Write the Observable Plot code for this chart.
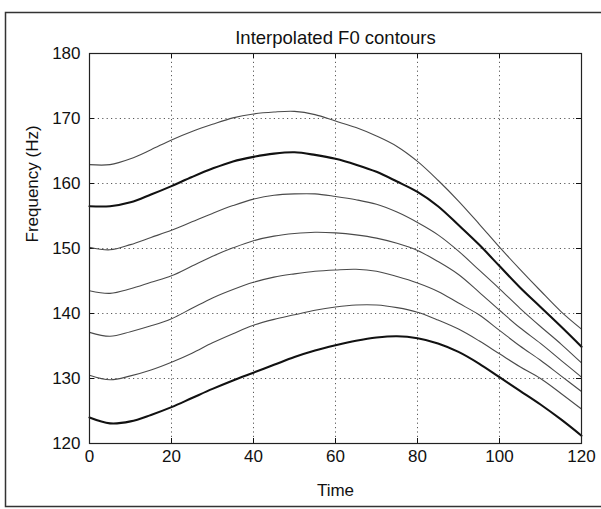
<!DOCTYPE html>
<html>
<head>
<meta charset="utf-8">
<script src="https://cdn.jsdelivr.net/npm/d3@7"></script>
<script src="https://cdn.jsdelivr.net/npm/@observablehq/plot@0.6"></script>
<style>
  html, body { margin: 0; padding: 0; background: #fff; }
  #chart { width: 601px; height: 509px; }
</style>
</head>
<body>
<div id="chart"></div>
<script>
const time = [0,5,10,15,20,25,30,35,40,45,50,55,60,65,70,75,80,85,90,95,100,105,110,115,120];
const contour1 = [162.9,162.9,163.8,165.2,166.7,168.0,169.1,170.1,170.7,171.0,171.1,170.6,169.6,168.6,167.3,165.7,163.4,160.5,157.3,153.8,150.2,146.8,143.5,140.3,137.6];
const contour2 = [156.5,156.5,157.1,158.3,159.6,161.0,162.3,163.4,164.1,164.6,164.8,164.4,163.8,162.9,161.8,160.3,158.7,156.5,153.6,150.6,147.3,144.0,141.0,138.0,134.9];
const contour3 = [150.2,149.8,150.6,151.7,152.8,154.1,155.4,156.6,157.6,158.2,158.4,158.4,158.0,157.5,156.8,155.6,154.0,152.1,149.6,146.7,143.8,140.8,138.0,135.3,132.4];
const contour4 = [143.5,143.1,143.8,144.8,145.8,147.3,148.8,150.1,151.2,151.9,152.3,152.5,152.4,152.1,151.6,150.8,149.7,148.0,146.0,143.3,140.5,137.8,135.4,132.8,130.2];
const contour5 = [137.1,136.5,137.2,138.1,139.2,140.8,142.4,143.7,144.8,145.6,146.1,146.5,146.7,146.8,146.5,145.7,144.7,143.4,141.6,139.8,137.4,135.0,132.8,130.4,128.0];
const contour6 = [130.5,129.8,130.4,131.3,132.5,133.9,135.5,136.9,138.2,139.1,139.8,140.5,141.0,141.3,141.3,140.9,140.2,139.0,137.6,135.8,133.8,131.8,130.0,127.7,125.3];
const contour7 = [124.0,123.1,123.4,124.4,125.6,127.0,128.4,129.7,130.9,132.1,133.3,134.3,135.1,135.8,136.3,136.5,136.2,135.4,134.1,132.3,130.2,128.1,126.0,123.7,121.2];
const contourNames = ["c1","c2","c3","c4","c5","c6","c7"];
const thickNames = ["c2","c7"];
const xTicks = [0,20,40,60,80,100,120];
const yTicks = [120,130,140,150,160,170,180];
const titleText = "Interpolated F0 contours";
const xLabel = "Time";
const yLabel = "Frequency (Hz)";

const allContours = [contour1,contour2,contour3,contour4,contour5,contour6,contour7];
const rows = [];
allContours.forEach((vals, i) => {
  vals.forEach((v, j) => rows.push({name: contourNames[i], t: time[j], f: v}));
});
const thin = rows.filter(d => !thickNames.includes(d.name));
const thick = rows.filter(d => thickNames.includes(d.name));

const W = 601, H = 509;
const mT = 53, mB = 66, mL = 89, mR = 20;
const innerW = W - mL - mR, innerH = H - mT - mB;
const font = "Liberation Sans, Arial, Helvetica, sans-serif";

const chart = Plot.plot({
  width: W,
  height: H,
  marginTop: mT,
  marginBottom: mB,
  marginLeft: mL,
  marginRight: mR,
  style: {fontFamily: font, fontSize: "16px", background: "#fff", color: "#111"},
  x: {domain: [0, 120]},
  y: {domain: [120, 180]},
  marks: [
    Plot.gridX(xTicks, {stroke: "#222", strokeOpacity: 0.75, strokeDasharray: "1.2,3.2"}),
    Plot.gridY(yTicks, {stroke: "#222", strokeOpacity: 0.75, strokeDasharray: "1.2,3.2"}),
    Plot.tickX(xTicks, {x: d => d, insetTop: innerH - 5, stroke: "#111"}),
    Plot.tickX(xTicks, {x: d => d, insetBottom: innerH - 5, stroke: "#111"}),
    Plot.tickY(yTicks, {y: d => d, insetRight: innerW - 5, stroke: "#111"}),
    Plot.tickY(yTicks, {y: d => d, insetLeft: innerW - 5, stroke: "#111"}),
    Plot.line(thin, {x: "t", y: "f", z: "name", stroke: "#4a4a4a", strokeWidth: 1.1, curve: "catmull-rom"}),
    Plot.line(thick, {x: "t", y: "f", z: "name", stroke: "#111", strokeWidth: 2.1, curve: "catmull-rom"}),
    Plot.frame({stroke: "#222", strokeWidth: 1.2}),
    Plot.axisX(xTicks, {tickSize: 0, tickPadding: 6, fontSize: 17, label: null, fill: "#111"}),
    Plot.axisY(yTicks, {tickSize: 0, tickPadding: 9, fontSize: 17, label: null, fill: "#111"}),
    Plot.text([xLabel], {frameAnchor: "bottom", lineAnchor: "middle", dy: 47, fontSize: 17, fill: "#111"}),
    Plot.text([yLabel], {frameAnchor: "left", lineAnchor: "middle", dx: -57, dy: -6, rotate: -90, fontSize: 17, fill: "#111"}),
    Plot.text([titleText], {frameAnchor: "top", lineAnchor: "middle", dy: -15, fontSize: 18.5, fill: "#111"})
  ]
});

d3.select(chart).append("rect")
  .attr("x", 5.5).attr("y", 12.5)
  .attr("width", 600).attr("height", 494)
  .attr("fill", "none").attr("stroke", "#333").attr("stroke-width", 1.5);

document.getElementById("chart").appendChild(chart);
</script>
</body>
</html>
